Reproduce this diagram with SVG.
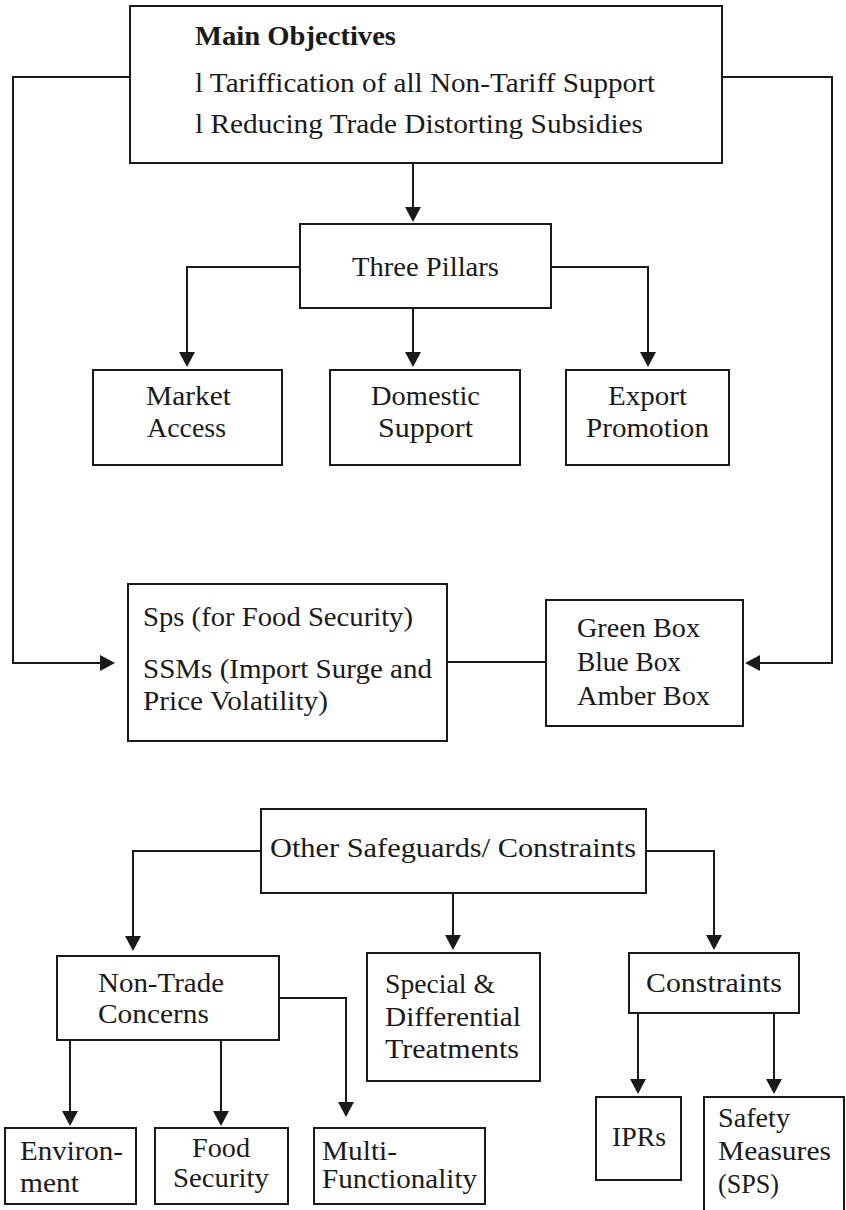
<svg xmlns="http://www.w3.org/2000/svg" width="846" height="1210" viewBox="0 0 846 1210">
<style>
.box{fill:#fff;stroke:#1a1a1a;stroke-width:2}
.t{font-family:"Liberation Serif",serif;font-size:27px;fill:#1a1a1a}
.b{font-weight:bold}
.ln{fill:none;stroke:#1a1a1a;stroke-width:2}
</style>
<defs>
<marker id="ah" viewBox="0 0 15 16" refX="11" refY="8" markerWidth="15" markerHeight="16" markerUnits="userSpaceOnUse" orient="auto">
<path d="M0,0 L15,8 L0,16 z" fill="#1a1a1a"/>
</marker>
</defs>
<rect width="846" height="1210" fill="#fff"/>
<g id="connectors">
<path class="ln" marker-end="url(#ah)" d="M413,163 V218"/>
<path class="ln" marker-end="url(#ah)" d="M130,77 H13 V663 H111"/>
<path class="ln" marker-end="url(#ah)" d="M722,77 H832 V663 H749"/>
<path class="ln" d="M447,662 H546"/>
<path class="ln" marker-end="url(#ah)" d="M300,267 H187 V363"/>
<path class="ln" marker-end="url(#ah)" d="M413,308 V363"/>
<path class="ln" marker-end="url(#ah)" d="M551,267 H648 V363"/>
<path class="ln" marker-end="url(#ah)" d="M261,851 H133 V947"/>
<path class="ln" marker-end="url(#ah)" d="M453,893 V946"/>
<path class="ln" marker-end="url(#ah)" d="M646,851 H714 V946"/>
<path class="ln" marker-end="url(#ah)" d="M70,1040 V1122"/>
<path class="ln" marker-end="url(#ah)" d="M221,1040 V1122"/>
<path class="ln" marker-end="url(#ah)" d="M279,998 H346 V1113"/>
<path class="ln" marker-end="url(#ah)" d="M638,1013 V1090"/>
<path class="ln" marker-end="url(#ah)" d="M774,1013 V1090"/>
</g>
<g id="main">
<rect class="box" x="130" y="6" width="592" height="157"/>
<text class="t b" x="195" y="45" textLength="201" lengthAdjust="spacingAndGlyphs">Main Objectives</text>
<text class="t" x="195" y="92" textLength="460" lengthAdjust="spacingAndGlyphs">l Tariffication of all Non-Tariff Support</text>
<text class="t" x="195" y="133" textLength="448" lengthAdjust="spacingAndGlyphs">l Reducing Trade Distorting Subsidies</text>
</g>
<g id="pillars">
<rect class="box" x="300" y="224" width="251" height="84"/>
<text class="t" x="352" y="276" textLength="147" lengthAdjust="spacingAndGlyphs">Three Pillars</text>
</g>
<g id="market">
<rect class="box" x="93" y="370" width="189" height="95"/>
<text class="t" x="146" y="405" textLength="85" lengthAdjust="spacingAndGlyphs">Market</text>
<text class="t" x="147" y="437" textLength="79" lengthAdjust="spacingAndGlyphs">Access</text>
</g>
<g id="domestic">
<rect class="box" x="330" y="370" width="190" height="95"/>
<text class="t" x="371" y="405" textLength="109" lengthAdjust="spacingAndGlyphs">Domestic</text>
<text class="t" x="378" y="437" textLength="95" lengthAdjust="spacingAndGlyphs">Support</text>
</g>
<g id="export">
<rect class="box" x="566" y="370" width="163" height="95"/>
<text class="t" x="608" y="405" textLength="79" lengthAdjust="spacingAndGlyphs">Export</text>
<text class="t" x="586" y="437" textLength="123" lengthAdjust="spacingAndGlyphs">Promotion</text>
</g>
<g id="sps">
<rect class="box" x="128" y="584" width="319" height="157"/>
<text class="t" x="143" y="626" textLength="270" lengthAdjust="spacingAndGlyphs">Sps (for Food Security)</text>
<text class="t" x="143" y="678" textLength="289" lengthAdjust="spacingAndGlyphs">SSMs (Import Surge and</text>
<text class="t" x="143" y="710" textLength="185" lengthAdjust="spacingAndGlyphs">Price Volatility)</text>
</g>
<g id="boxes">
<rect class="box" x="546" y="600" width="197" height="126"/>
<text class="t" x="577" y="637" textLength="123" lengthAdjust="spacingAndGlyphs">Green Box</text>
<text class="t" x="577" y="671" textLength="104" lengthAdjust="spacingAndGlyphs">Blue Box</text>
<text class="t" x="577" y="705" textLength="133" lengthAdjust="spacingAndGlyphs">Amber Box</text>
</g>
<g id="other">
<rect class="box" x="261" y="809" width="385" height="84"/>
<text class="t" x="270" y="857" textLength="366" lengthAdjust="spacingAndGlyphs">Other Safeguards/ Constraints</text>
</g>
<g id="nontrade">
<rect class="box" x="57" y="956" width="222" height="84"/>
<text class="t" x="98" y="992" textLength="126" lengthAdjust="spacingAndGlyphs">Non-Trade</text>
<text class="t" x="98" y="1023" textLength="111" lengthAdjust="spacingAndGlyphs">Concerns</text>
</g>
<g id="special">
<rect class="box" x="367" y="953" width="173" height="128"/>
<text class="t" x="385" y="993" textLength="110" lengthAdjust="spacingAndGlyphs">Special &amp;</text>
<text class="t" x="385" y="1026" textLength="136" lengthAdjust="spacingAndGlyphs">Differential</text>
<text class="t" x="385" y="1058" textLength="134" lengthAdjust="spacingAndGlyphs">Treatments</text>
</g>
<g id="constraints">
<rect class="box" x="629" y="953" width="170" height="60"/>
<text class="t" x="646" y="992" textLength="136" lengthAdjust="spacingAndGlyphs">Constraints</text>
</g>
<g id="environment">
<rect class="box" x="5" y="1128" width="131" height="76"/>
<text class="t" x="20" y="1160" textLength="103" lengthAdjust="spacingAndGlyphs">Environ-</text>
<text class="t" x="20" y="1192" textLength="59" lengthAdjust="spacingAndGlyphs">ment</text>
</g>
<g id="food">
<rect class="box" x="155" y="1128" width="133" height="76"/>
<text class="t" x="192" y="1157" textLength="58" lengthAdjust="spacingAndGlyphs">Food</text>
<text class="t" x="173" y="1187" textLength="96" lengthAdjust="spacingAndGlyphs">Security</text>
</g>
<g id="multi">
<rect class="box" x="314" y="1128" width="171" height="76"/>
<text class="t" x="322" y="1160" textLength="75" lengthAdjust="spacingAndGlyphs">Multi-</text>
<text class="t" x="322" y="1188" textLength="155" lengthAdjust="spacingAndGlyphs">Functionality</text>
</g>
<g id="iprs">
<rect class="box" x="596" y="1097" width="85" height="83"/>
<text class="t" x="612" y="1146" textLength="54" lengthAdjust="spacingAndGlyphs">IPRs</text>
</g>
<g id="safety">
<rect class="box" x="704" y="1097" width="140" height="130"/>
<text class="t" x="718" y="1127" textLength="72" lengthAdjust="spacingAndGlyphs">Safety</text>
<text class="t" x="718" y="1160" textLength="113" lengthAdjust="spacingAndGlyphs">Measures</text>
<text class="t" x="718" y="1193" textLength="61" lengthAdjust="spacingAndGlyphs">(SPS)</text>
</g>
</svg>
